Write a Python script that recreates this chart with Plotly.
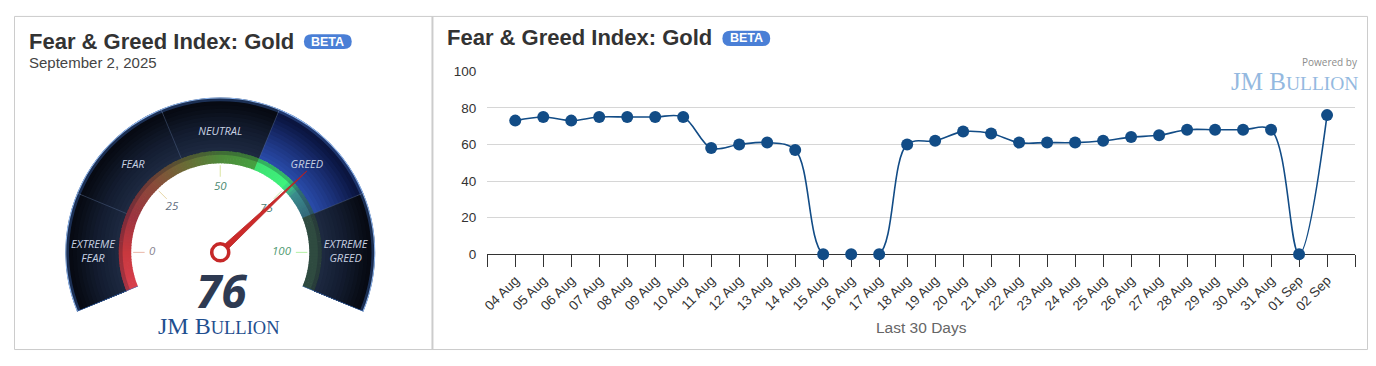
import numpy as np
import plotly.graph_objects as go

# ---------------- data ----------------
dates = ["04 Aug", "05 Aug", "06 Aug", "07 Aug", "08 Aug", "09 Aug", "10 Aug",
         "11 Aug", "12 Aug", "13 Aug", "14 Aug", "15 Aug", "16 Aug", "17 Aug",
         "18 Aug", "19 Aug", "20 Aug", "21 Aug", "22 Aug", "23 Aug", "24 Aug",
         "25 Aug", "26 Aug", "27 Aug", "28 Aug", "29 Aug", "30 Aug", "31 Aug",
         "01 Sep", "02 Sep"]
index_values = [73, 75, 73, 75, 75, 75, 75,
                58, 60, 61, 57, 0, 0, 0,
                60, 62, 67, 66, 61, 61, 61,
                62, 64, 65, 68, 68, 68, 68,
                0, 76]
y_ticks = [0, 20, 40, 60, 80, 100]

gauge_value = 76
gauge_date = "September 2, 2025"
zone_names = ["EXTREME<br>FEAR", "FEAR", "NEUTRAL", "GREED", "EXTREME<br>GREED"]
zone_edges = [-12.5, 12.5, 37.5, 62.5, 87.5, 112.5]
gauge_ticks = [0, 25, 50, 75, 100]

# ---------------- helpers ----------------
# the page body adds an 8px margin, so the figure is 16px smaller and
# all reference pixel positions are shifted by that margin
OFF = 8
W, H = 1376 - 2 * OFF, 366 - 2 * OFF
def px(x): return (x - OFF) / W
def py(y): return 1 - (y - OFF) / H
def ang(v): return 180 - 1.8 * v

def hex2rgb(h):
    h = h.lstrip('#')
    return np.array([int(h[i:i + 2], 16) for i in (0, 2, 4)], dtype=float)

def interp_color(stops, t):
    for (t0, c0), (t1, c1) in zip(stops[:-1], stops[1:]):
        if t0 <= t <= t1:
            f = 0 if t1 == t0 else (t - t0) / (t1 - t0)
            c = hex2rgb(c0) * (1 - f) + hex2rgb(c1) * f
            return 'rgb(%d,%d,%d)' % tuple(c.round())
    c = stops[-1][1] if t > stops[-1][0] else stops[0][1]
    return 'rgb(%d,%d,%d)' % tuple(hex2rgb(c))

fig = go.Figure()

# ---------------- line chart ----------------
x_idx = list(range(len(dates)))
fig.add_trace(go.Scatter(
    x=x_idx, y=index_values, mode='lines+markers',
    line=dict(color='#124c86', width=1.6, shape='spline', smoothing=1.0),
    marker=dict(color='#124c86', size=12),
    cliponaxis=False, hoverinfo='skip', showlegend=False,
    xaxis='x', yaxis='y'))

# ---------------- gauge ----------------
R_IN_RING, R_OUT_RING, R_OUT = 93, 106, 162
active = next(i for i in range(5) if zone_edges[i] <= gauge_value < zone_edges[i + 1])

# dark zone bands: nested wedges (outer first) give a seamless radial gradient
n_steps = 14
thetas, widths, bases, lens, cols = [], [], [], [], []
for k in range(n_steps, 0, -1):
    t = (k - 0.5) / n_steps
    r1 = R_OUT_RING + (R_OUT - R_OUT_RING) * k / n_steps
    for i in range(5):
        a0, a1 = ang(zone_edges[i]), ang(zone_edges[i + 1])
        if i == active:
            stops = [(0, '#2a4cab'), (0.45, '#1b3178'), (0.85, '#0b1642'), (1, '#0a1238')]
        else:
            stops = [(0, '#1e2a42'), (0.45, '#121b2e'), (0.85, '#070b14'), (1, '#060910')]
        thetas.append((a0 + a1) / 2)
        widths.append(abs(a1 - a0))
        bases.append(R_OUT_RING)
        lens.append(r1 - R_OUT_RING)
        cols.append(interp_color(stops, t))
fig.add_trace(go.Barpolar(theta=thetas, width=widths, base=bases, r=lens,
                          marker=dict(color=cols, line=dict(width=0)),
                          hoverinfo='skip', showlegend=False))

# outer rim glow
fig.add_trace(go.Barpolar(theta=[90], width=[225], base=[R_OUT - 4], r=[3],
                          marker=dict(color='rgba(70,120,210,0.35)', line=dict(width=0)),
                          hoverinfo='skip', showlegend=False))
fig.add_trace(go.Barpolar(theta=[90], width=[225], base=[R_OUT - 1.2], r=[1.6],
                          marker=dict(color='#8fb6ee', line=dict(width=0)),
                          hoverinfo='skip', showlegend=False))

# coloured ring (angular gradient, overlapping wedges)
ring_stops = [(-12.5, '#d8404e'), (0, '#c8383e'), (12.5, '#9c3440'), (25, '#8a4a3a'),
              (37.5, '#6b6a36'), (50, '#4f8a3a'), (62.4, '#46a040'), (62.5, '#3ee070'),
              (74, '#3ef27c'), (79, '#3a8c8c'), (87.4, '#33687a'), (87.5, '#2f4b40'),
              (112.5, '#2f4b40')]
vals = np.arange(-12.5, 112.5, 1.0)
r_th, r_col = [], []
for v in vals:
    r_th.append(ang(v + 0.5))
    r_col.append(interp_color(ring_stops, v + 0.5))
fig.add_trace(go.Barpolar(theta=r_th, width=[2.2] * len(r_th), base=[R_IN_RING] * len(r_th),
                          r=[R_OUT_RING - R_IN_RING] * len(r_th),
                          marker=dict(color=r_col, line=dict(width=0)),
                          hoverinfo='skip', showlegend=False))
fig.add_trace(go.Barpolar(theta=[90], width=[225], base=[R_OUT_RING - 4], r=[4],
                          marker=dict(color='rgba(20,20,40,0.25)', line=dict(width=0)),
                          hoverinfo='skip', showlegend=False))

# zone dividers
for j, e in enumerate(zone_edges):
    edge_col = '#3c72c4' if j in (0, 5) else 'rgba(90,110,150,0.55)'
    r_start = R_IN_RING if j in (0, 5) else R_OUT_RING
    fig.add_trace(go.Scatterpolar(r=[r_start, R_OUT], theta=[ang(e), ang(e)], mode='lines',
                                  line=dict(color=edge_col, width=1.2 if j in (0, 5) else 0.8),
                                  hoverinfo='skip', showlegend=False))

# zone labels
label_r = [133, 129, 126, 128, 131]
for i, name in enumerate(zone_names):
    mid = (zone_edges[i] + zone_edges[i + 1]) / 2
    fig.add_trace(go.Scatterpolar(r=[label_r[i]], theta=[ang(mid)], mode='text', text=[name],
                                  textfont=dict(family='Open Sans', size=11, color='#c7d1e2',
                                                style='italic'),
                                  hoverinfo='skip', showlegend=False))

# ticks and tick labels inside the ring
tick_cols = ['#e9b7a8', '#e6d6a6', '#dbe4a2', '#c9ebb0', '#b4f0a4']
num_cols = ['#8a8592', '#5e6b80', '#4c8a72', '#4e7d74', '#4f9a72']
num_r = [71, 69, 68, 66, 64]
for t, tc, nc, nr in zip(gauge_ticks, tick_cols, num_cols, num_r):
    fig.add_trace(go.Scatterpolar(r=[79, 91], theta=[ang(t), ang(t)], mode='lines',
                                  line=dict(color=tc, width=1),
                                  hoverinfo='skip', showlegend=False))
    fig.add_trace(go.Scatterpolar(r=[nr], theta=[ang(t) + (2 if t == 25 else (-2 if t == 75 else 0))],
                                  mode='text', text=[str(t)],
                                  textfont=dict(family='Open Sans', size=11.5, color=nc, style='italic'),
                                  hoverinfo='skip', showlegend=False))

# needle
th = ang(gauge_value)
fig.add_trace(go.Scatterpolar(r=[124, 9, 9, 124], theta=[th, th + 19, th - 19, th],
                              mode='lines', fill='toself', fillcolor='#cc2a2a',
                              line=dict(color='#b52020', width=0.8),
                              hoverinfo='skip', showlegend=False))
fig.add_trace(go.Scatterpolar(r=[0], theta=[0], mode='markers',
                              marker=dict(size=17, color='white', line=dict(color='#c62828', width=3.5)),
                              hoverinfo='skip', showlegend=False))

# ---------------- layout ----------------
shapes = [
    dict(type='rect', xref='paper', yref='paper', x0=px(9.5), x1=px(1367.5), y0=py(357.5), y1=py(9.5),
         line=dict(color='#cccccc', width=1), layer='below'),
    dict(type='line', xref='paper', yref='paper', x0=px(429), x1=px(429), y0=py(357.5), y1=py(9.5),
         line=dict(color='#cccccc', width=2)),
]
def badge(x0, x1, y0, y1):
    r = (y1 - y0) / 2
    path = (f"M {px(x0 + r)},{py(y0)} L {px(x1 - r)},{py(y0)} "
            f"Q {px(x1)},{py(y0)} {px(x1)},{py(y0 + r)} Q {px(x1)},{py(y1)} {px(x1 - r)},{py(y1)} "
            f"L {px(x0 + r)},{py(y1)} Q {px(x0)},{py(y1)} {px(x0)},{py(y0 + r)} "
            f"Q {px(x0)},{py(y0)} {px(x0 + r)},{py(y0)} Z")
    return dict(type='path', xref='paper', yref='paper', path=path,
                fillcolor='#4a7fd6', line=dict(width=0))
shapes.append(badge(300, 348, 28, 43.5))
shapes.append(badge(720, 768, 24.5, 40.5))

FONT = 'Liberation Sans, Arial, sans-serif'
ann = []
def A(text, x, y, size, color, xanchor='left', family=FONT, **kw):
    ann.append(dict(text=text, x=px(x), y=py(y), xref='paper', yref='paper', showarrow=False,
                    xanchor=xanchor, yanchor='middle', font=dict(family=family, size=size, color=color, **kw)))

A('<b>Fear &amp; Greed Index: Gold</b>', 22, 35.5, 22, '#333333')
A('<b>BETA</b>', 324, 36, 12.5, '#ffffff', xanchor='center')
A(gauge_date, 22, 58, 15, '#444444')
A('<b>Fear &amp; Greed Index: Gold</b>', 442, 31.5, 22, '#333333')
A('<b>BETA</b>', 744, 32.5, 12.5, '#ffffff', xanchor='center')
A('<b>%d</b>' % gauge_value, 217, 295, 46, '#2e3a52', xanchor='center', family='Open Sans', style='italic')
A('<span style="font-size:24px">JM B</span><span style="font-size:18.5px">ULLION</span>',
  215, 333, 24, '#1f4f8f', xanchor='center', family='Liberation Serif, Times New Roman, serif')
A('Powered by', 1360, 57.5, 10, '#8c8c8c', xanchor='right', family='Open Sans')
A('<span style="font-size:25px">JM B</span><span style="font-size:19.5px">ULLION</span>',
  1360, 78, 25, '#94b9e0', xanchor='right', family='Liberation Serif, Times New Roman, serif')
A('Last 30 Days', 919.5, 335, 15.5, '#666666', xanchor='center')

fig.update_layout(
    width=W, height=H, margin=dict(l=0, r=0, t=0, b=0),
    paper_bgcolor='white', plot_bgcolor='white', showlegend=False,
    font=dict(family=FONT, color='#333333'),
    xaxis=dict(domain=[px(484), px(1355)], range=[-1, 30],
               tickvals=list(range(-1, 31)), ticktext=[''] + dates + [''],
               tickangle=-45, ticks='outside', ticklen=12, tickcolor='#333333', tickwidth=1,
               showline=True, linecolor='#333333', linewidth=1, showgrid=False, zeroline=False,
               tickfont=dict(size=13.5, color='#333333'), layer='below traces', fixedrange=True,
               anchor='y'),
    yaxis=dict(domain=[py(258), py(66.7)], range=[0, 100], tickvals=y_ticks,
               showgrid=True, gridcolor='#d6d6d6', gridwidth=1, zeroline=False, showline=False,
               tickfont=dict(size=13.5, color='#333333'), ticklabelstandoff=10, fixedrange=True,
               anchor='x'),
    polar=dict(domain=dict(x=[px(54), px(378)], y=[py(318), py(94)]),
               sector=[-22.5, 202.5], bgcolor='rgba(0,0,0,0)',
               radialaxis=dict(range=[0, R_OUT], visible=False, showgrid=False),
               angularaxis=dict(visible=False, direction='counterclockwise', rotation=0,
                                showgrid=False, thetaunit='degrees')),
    shapes=shapes, annotations=ann,
)

fig.write_html("out.html")
